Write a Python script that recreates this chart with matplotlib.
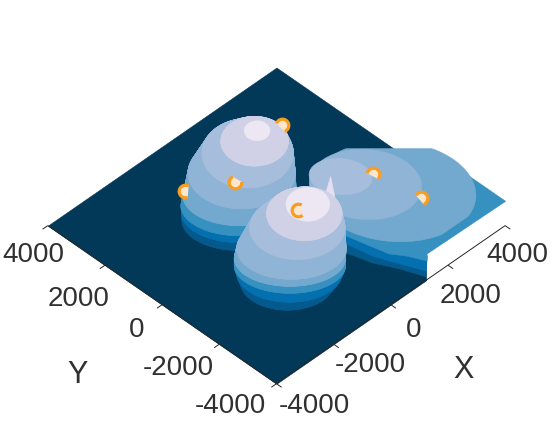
#!/usr/bin/env python3
"""Terraced 3D density surface with six marked points, seen from above."""

import matplotlib

matplotlib.use("Agg")
import matplotlib.pyplot as plt
import numpy as np
from matplotlib.patches import Ellipse
from matplotlib.path import Path
from mpl_toolkits.mplot3d import proj3d
from mpl_toolkits.mplot3d.art3d import Poly3DCollection

# one colour and height per terrace, lowest first
level_colors = ["#045a8d", "#0570b0", "#3690c0", "#74a9cf", "#8fb4d6", "#a6bddb", "#d0d1e6", "#ece7f2"]
level_z = [6, 12, 25, 36, 48, 60, 72, 84]
floor_color = "#023858"

# terrace outlines: centre x, centre y, width, height
peak_a_x = [-668, -627, -787, -794, -483, -177, -56, -46]
peak_a_y = [618, 677, 535, 492, 735, 831, 710, 650]
peak_a_w = [2854, 2854, 2854, 2804, 2657, 2263, 1673, 640]
peak_a_h = [2136, 2136, 2136, 2136, 2563, 2492, 1780, 712]

peak_b_x = [-1394, -1258, -1400, -1501, -1525, -1195, -1023, -1021]
peak_b_y = [-1776, -1710, -1870, -1971, -2047, -1925, -1997, -2099]
peak_b_w = [2312, 2608, 2755, 2755, 2706, 2362, 1870, 1082]
peak_b_h = [1994, 2136, 1994, 1994, 2207, 2278, 1922, 1210]

# right peak: its three low terraces run off the grid, so they are outlines
base_1_x = [293, 387, 587, 906, 1175, 1720, 2491, 1448]
base_1_y = [-1551, -2047, -2751, -3372, -4043, -3532, -1787, -744]
base_2_x = [368, 462, 612, 782, 1175, 1569, 2466, 1423]
base_2_y = [-1476, -1972, -2726, -3148, -4043, -3683, -1812, -769]
base_3_x = [2304, 4000, 4000, 1293, 1116, 877, 632, 512, 336, 293, 1174]
base_3_y = [112, -1424, -4000, -3959, -4136, -3645, -3298, -2826, -2098, -1551, -670]

peak_c_x = [2027, 1397, 861]
peak_c_y = [-2077, -1699, -1365]
peak_c_w = [4083, 2804, 1574]
peak_c_h = [3560, 2492, 1282]
peak_c_angle = [-62, -62, -59]
peak_c_top = [2113, 1509, 8000]  # upper limit on x + y

floor_x = [-4000, 1240, 4000, 4000, -4000]
floor_y = [-4000, -4000, -1000, 4000, 4000]

spike_x = [84, 173, 171]
spike_y = [-1794, -1531, -1881]
spike_z = [84, 60, 60]

# marked points, and the part of each ring not buried in the surface
point_x = [1256, -1474, -831, -1328, 1619, 2278]
point_y = [1058, 1726, 629, -2094, -1755, -2766]
point_z = [55, 30, 48, 84, 55, 38]
arc_from = [-70, 60, 115, 60, -45, -70]
arc_to = [160, 290, 365, 310, 170, 150]

ticks = [-4000, -2000, 0, 2000, 4000]
tick_labels = ["-4000", "-2000", "0", "2000", "4000"]

# label offsets from the tick, in pixels
x_label_dx = [38, 37, 23, 23, 12]
x_label_dy = [-22, -21, -25, -31, -29]
y_label_dx = [-46, -41, -25, -26, -14]
y_label_dy = [-22, -24, -25, -34, -29]

fig = plt.figure(figsize=(5.52, 4.23), dpi=100)
ax = fig.add_axes([-7 / 552, -26.5 / 423, 1, 552 / 423], projection="3d", proj_type="ortho",
                  computed_zorder=False)
ax.view_init(elev=43.73, azim=-135)
ax.set_xlim(-4000, 4000)
ax.set_ylim(-4000, 4000)
ax.set_zlim(0, 120)
ax.set_box_aspect((1, 1, 0.51), zoom=0.855)
ax.set_axis_off()
ax.patch.set_alpha(0)

order = 1
angles = np.linspace(0, 2 * np.pi, 181)[:-1]
unit_ring = np.column_stack([np.cos(angles), np.sin(angles)])


def add_polys(verts, color):
    global order
    ax.add_collection3d(Poly3DCollection(verts, facecolors=color, edgecolors=color,
                                         linewidths=0.4, zorder=order))
    order += 1


def ring(cx, cy, w, h, angle=-45, top=8000):
    pts = Ellipse((cx, cy), w, h, angle=angle).get_patch_transform().transform(unit_ring)
    diff = pts[:, 0] - pts[:, 1]
    total = np.minimum(pts[:, 0] + pts[:, 1], top)
    x = np.clip((total + diff) / 2, -4000, 4000)
    y = np.clip((total - diff) / 2, -4000, 4000)
    return x, y


def add_dome(xs, ys, ws, hs):
    # each terrace keeps its colour up the slope to the next one
    for i in range(len(xs)):
        x0, y0 = ring(xs[i], ys[i], ws[i], hs[i])
        z0 = np.full_like(x0, level_z[i])
        verts = [list(zip(x0, y0, z0))]
        if i + 1 < len(xs):
            x1, y1 = ring(xs[i + 1], ys[i + 1], ws[i + 1], hs[i + 1])
            z1 = np.full_like(x1, level_z[i + 1])
            for j in range(len(x0)):
                k = (j + 1) % len(x0)
                verts.append([(x0[j], y0[j], z0[j]), (x0[k], y0[k], z0[k]),
                              (x1[k], y1[k], z1[k]), (x1[j], y1[j], z1[j])])
        add_polys(verts, level_colors[i])


add_polys([list(zip(floor_x, floor_y, [0] * 5))], floor_color)

add_dome(peak_a_x, peak_a_y, peak_a_w, peak_a_h)

for i, (bx, by) in enumerate([(base_1_x, base_1_y), (base_2_x, base_2_y), (base_3_x, base_3_y)]):
    add_polys([list(zip(bx, by, [level_z[i]] * len(bx)))], level_colors[i])

for i in range(3):
    x0, y0 = ring(peak_c_x[i], peak_c_y[i], peak_c_w[i], peak_c_h[i], angle=peak_c_angle[i],
                  top=peak_c_top[i])
    add_polys([list(zip(x0, y0, np.full_like(x0, level_z[i + 3])))], level_colors[i + 3])

add_polys([list(zip(spike_x, spike_y, spike_z))], "#e4e0ef")

add_dome(peak_b_x, peak_b_y, peak_b_w, peak_b_h)

for i in range(6):
    arc = Path.arc(arc_from[i], arc_to[i])
    inside = Path(np.vstack([arc.vertices, arc.vertices[0]]),
                  list(arc.codes) + [Path.CLOSEPOLY])
    ax.plot([point_x[i]], [point_y[i]], [point_z[i]], ls="", marker=inside, ms=9.2,
            mfc="#fee6cc", mec="none", zorder=order)
    ax.plot([point_x[i]], [point_y[i]], [point_z[i]], ls="", marker=arc, ms=9.2,
            mfc="none", mec="#f99d20", mew=2.3, zorder=order + 1)
    order += 2

# axis lines and ticks
line_kw = dict(color="#262626", lw=0.7, zorder=order, solid_capstyle="butt")
ax.plot([-4000, -4000, 4000], [4000, -4000, -4000], [0, 0, 0], **line_kw)
for t in ticks:
    ax.plot([t, t], [-4000, -4180], [0, 0], **line_kw)
    ax.plot([-4000, -4180], [t, t], [0, 0], **line_kw)

M = ax.get_proj()
text_kw = dict(textcoords="offset pixels", ha="center", va="center", color="#303030",
               family="Liberation Sans", annotation_clip=False)
for i, t in enumerate(ticks):
    px, py, _ = proj3d.proj_transform(t, -4000, 0, M)
    ax.annotate(tick_labels[i], (px, py), xytext=(x_label_dx[i], x_label_dy[i]), fontsize=20, **text_kw)
    px, py, _ = proj3d.proj_transform(-4000, t, 0, M)
    ax.annotate(tick_labels[i], (px, py), xytext=(y_label_dx[i], y_label_dy[i]), fontsize=20, **text_kw)

px, py, _ = proj3d.proj_transform(2000, -4000, 0, M)
ax.annotate("X", (px, py), xytext=(16, -105), fontsize=22, **text_kw)
px, py, _ = proj3d.proj_transform(-4000, 2000, 0, M)
ax.annotate("Y", (px, py), xytext=(-27, -110), fontsize=22, **text_kw)

fig.savefig("out.png", dpi=100)
